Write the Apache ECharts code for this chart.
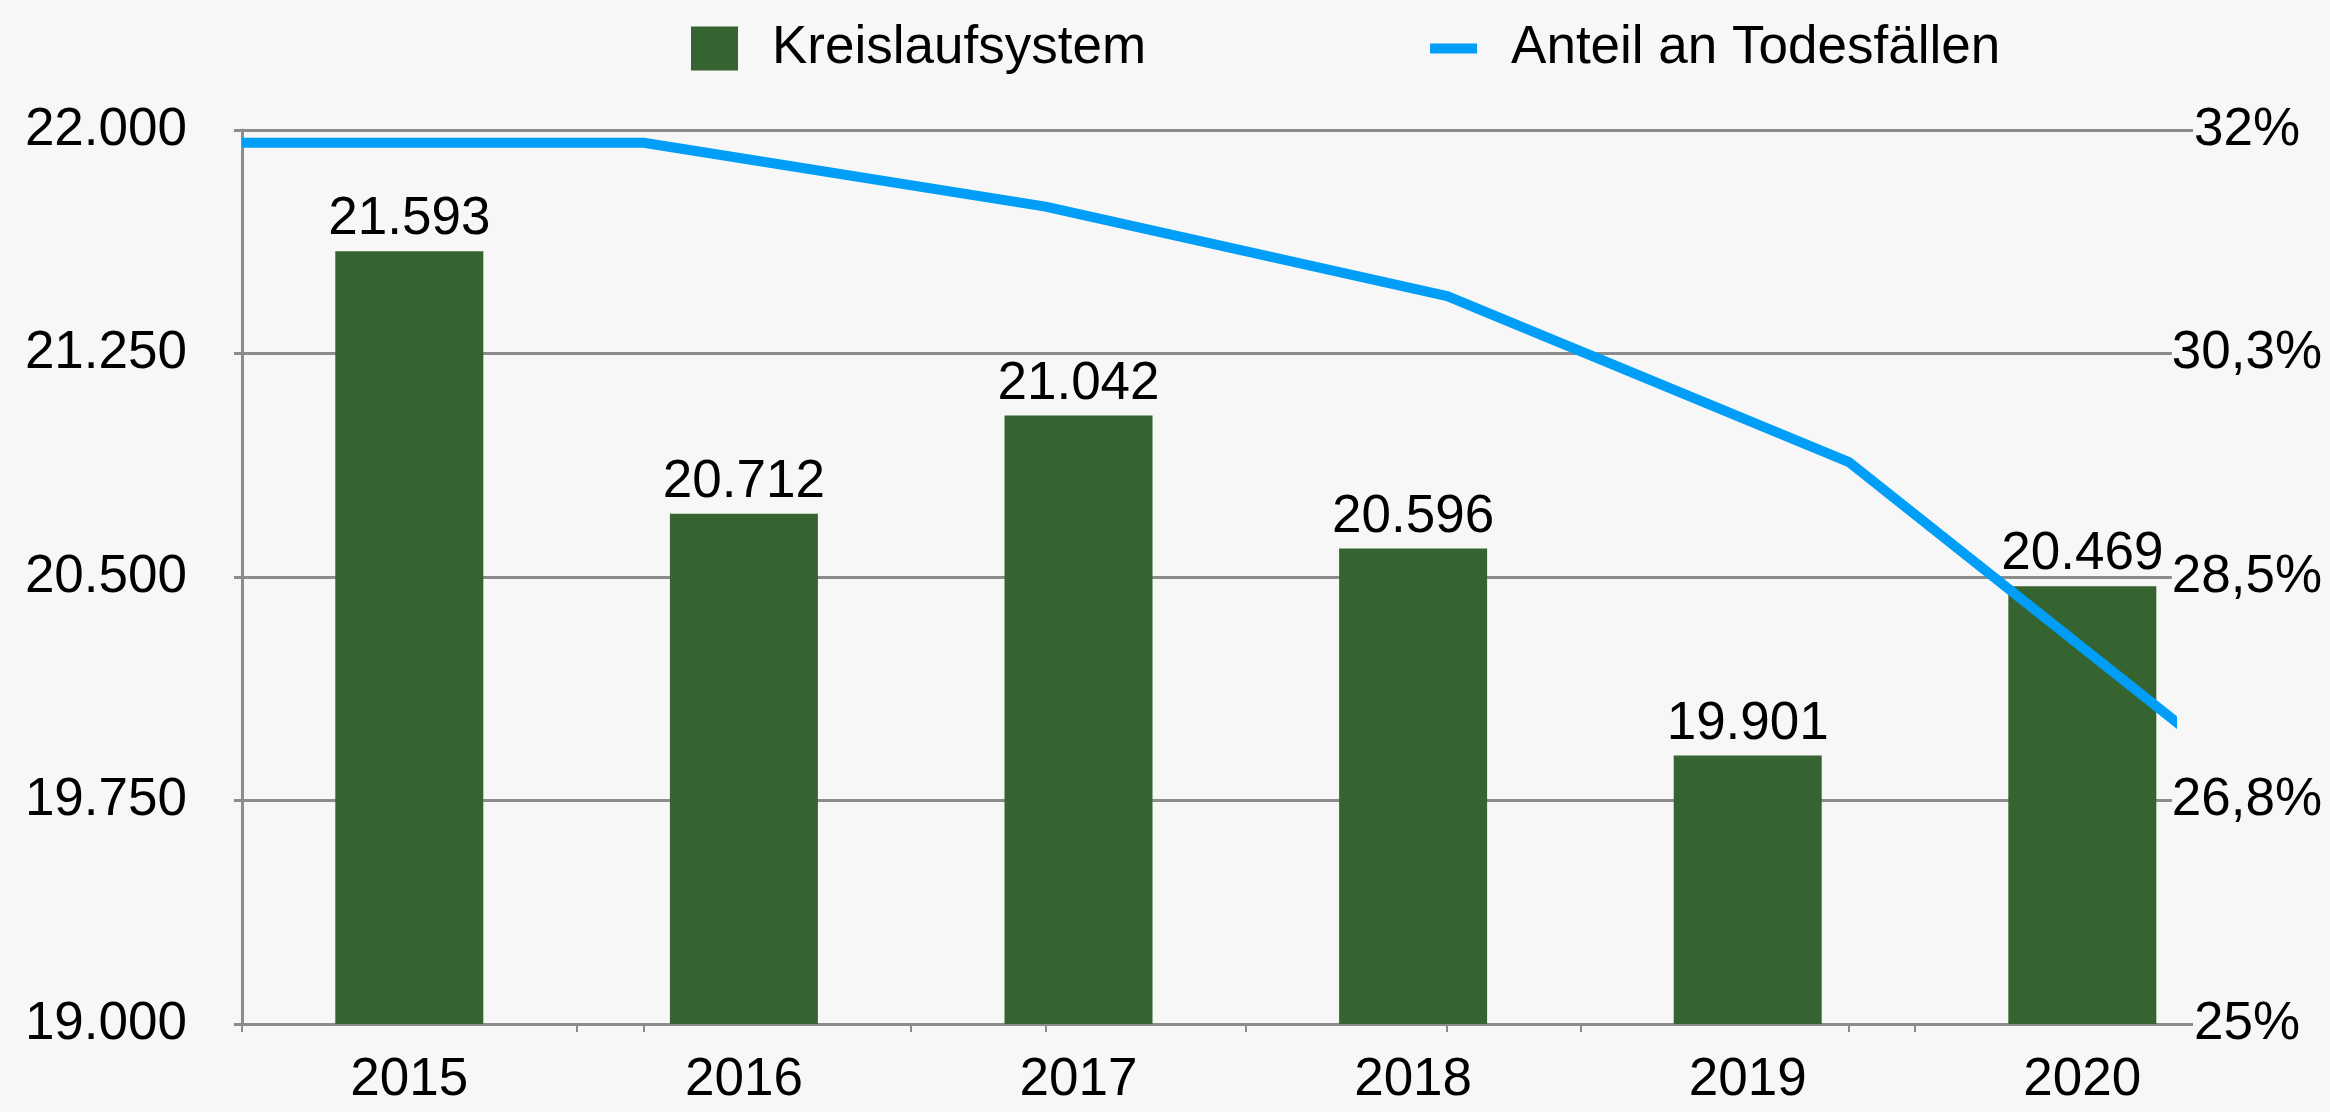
<!DOCTYPE html>
<html>
<head>
<meta charset="utf-8">
<script src="https://cdn.jsdelivr.net/npm/echarts@6/dist/echarts.min.js"></script>
<style>
  html, body { margin: 0; background: #f7f7f7; }
  #chart { width: 2330px; height: 1112px; }
</style>
</head>
<body>
<div id="chart"></div>
<script>
// Daten
const years = ['2015', '2016', '2017', '2018', '2019', '2020']
const deaths = [21593, 20712, 21042, 20596, 19901, 20469]
const share = [31.9, 31.9, 31.4, 30.7, 29.4, 26.9]

const FONT = '"Liberation Sans", Arial, sans-serif'
const GREY = '#8c8c8c'
const BLUE = '#009ef7'

// Tausenderpunkt
const fmtNum = (v) => String(v).replace(/\B(?=(\d{3})+(?!\d))/g, '.')
const fmtPct = (v) => String(Math.round(v * 10) / 10).replace('.', ',') + '%'

const chart = echarts.init(document.getElementById('chart'))

const options = {
  backgroundColor: '#f7f7f7',
  animation: false,
  textStyle: { fontFamily: FONT },
  legend: {
    left: 686,
    top: 17,
    itemWidth: 47,
    itemHeight: 44,
    itemGap: 284,
    data: [
      { name: 'Kreislaufsystem', icon: 'rect' },
      { name: 'Anteil an Todesfällen', icon: 'path://M0,0H47V10H0Z' }
    ],
    textStyle: { fontSize: 53, color: '#000', fontFamily: FONT, padding: [0, 0, 0, 29] }
  },
  grid: { left: 242, right: 158, top: 130, bottom: 88 },
  xAxis: [
    {
      // Balken-Achse
      type: 'value',
      min: -0.5,
      max: 5.268,
      splitLine: { show: false },
      axisLine: { show: true, onZero: false, lineStyle: { color: GREY, width: 3 } },
      axisTick: { show: true, length: 8, customValues: [-0.5, 0.5, 1.5, 2.5, 3.5, 4.5], lineStyle: { color: GREY, width: 2 } },
      axisLabel: {
        customValues: [0, 1, 2, 3, 4, 5],
        formatter: (v) => years[Math.round(v)],
        fontSize: 53, color: '#000', fontFamily: FONT, margin: 30
      }
    },
    {
      // Linien-Achse
      type: 'value',
      position: 'bottom',
      min: 0,
      max: 4.804,
      splitLine: { show: false },
      axisLine: { show: false, onZero: false },
      axisTick: { show: true, length: 8, customValues: [1, 2, 3, 4], lineStyle: { color: GREY, width: 2 } },
      axisLabel: { show: false }
    }
  ],
  yAxis: [
    {
      type: 'value',
      min: 19000,
      max: 22000,
      interval: 750,
      axisLine: { show: true, onZero: false, lineStyle: { color: GREY, width: 3 } },
      axisTick: { show: true, length: 8, lineStyle: { color: GREY, width: 3 } },
      splitLine: { show: true, lineStyle: { color: GREY, width: 3 } },
      axisLabel: { formatter: fmtNum, fontSize: 53, color: '#000', fontFamily: FONT, margin: 55 }
    },
    {
      type: 'value',
      position: 'right',
      min: 25,
      max: 32,
      interval: 1.75,
      axisLine: { show: true, onZero: false, lineStyle: { color: 'rgba(0,0,0,0)', width: 1 } },
      axisTick: { show: true, inside: false, length: 21, lineStyle: { color: GREY, width: 3 } },
      splitLine: { show: false },
      axisLabel: {
        formatter: fmtPct, fontSize: 53, color: '#000', fontFamily: FONT,
        align: 'center', margin: 75, backgroundColor: '#f7f7f7'
      }
    }
  ],
  series: [
    {
      name: 'Kreislaufsystem',
      type: 'bar',
      xAxisIndex: 0,
      yAxisIndex: 0,
      barWidth: 148,
      itemStyle: { color: '#356430' },
      label: {
        show: true, position: 'top', distance: 5,
        formatter: (p) => fmtNum(p.value[1]),
        fontSize: 53, color: '#000', fontFamily: FONT
      },
      data: deaths.map((v, i) => [i, v])
    },
    {
      name: 'Anteil an Todesfällen',
      type: 'line',
      xAxisIndex: 1,
      yAxisIndex: 1,
      symbol: 'none',
      clip: true,
      z: 3,
      lineStyle: { color: BLUE, width: 10 },
      itemStyle: { color: BLUE },
      data: share.map((v, i) => [i, v])
    }
  ]
}

chart.setOption(options)
</script>
</body>
</html>
